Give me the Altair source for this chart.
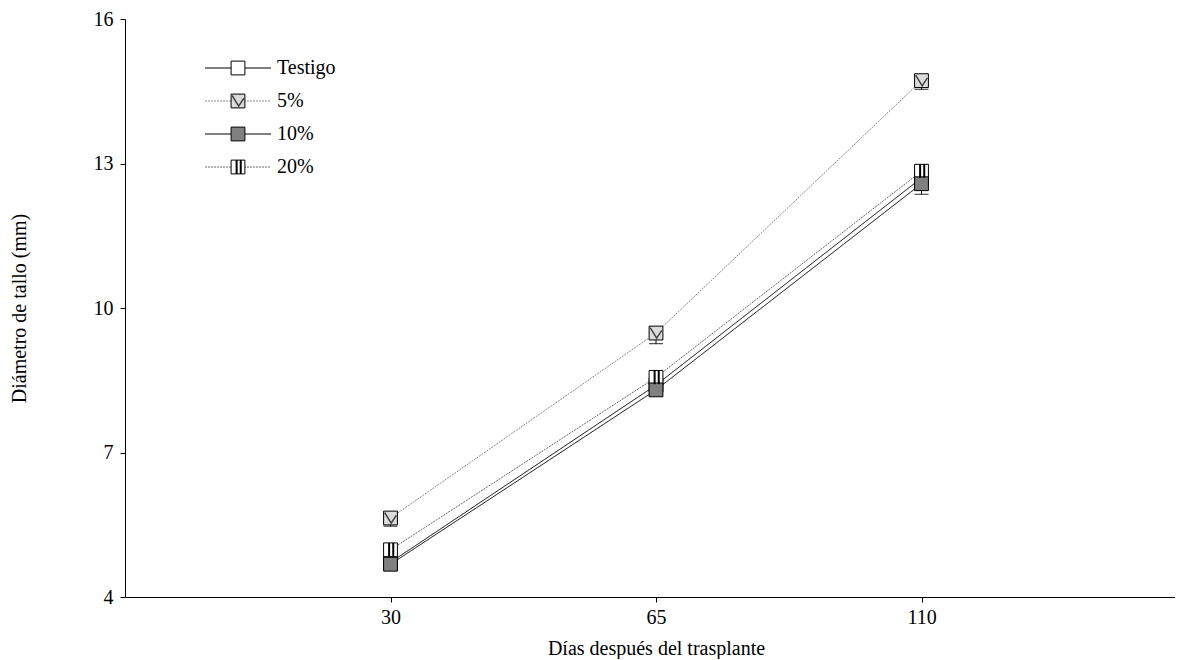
import altair as alt
import pandas as pd

# ---- data ----
days = ["30", "65", "110"]
series = ["Testigo", "5%", "10%", "20%"]
testigo = [4.72, 8.40, 12.70]
pct5 = [5.64, 9.48, 14.72]
pct10 = [4.68, 8.30, 12.58]
pct20 = [4.98, 8.56, 12.84]
err_testigo = [0.12, 0.15, 0.20]
err_pct5 = [0.17, 0.22, 0.18]
err_pct10 = [0.12, 0.12, 0.22]
err_pct20 = [0.12, 0.15, 0.15]

draw_rank = {"Testigo": 0, "5%": 1, "20%": 2, "10%": 3}

rows = []
for s, vals, errs in [("Testigo", testigo, err_testigo), ("5%", pct5, err_pct5),
                      ("10%", pct10, err_pct10), ("20%", pct20, err_pct20)]:
    for d, v, e in zip(days, vals, errs):
        rows.append({"dias": d, "trat": s, "diam": v, "low": v - e, "rank": draw_rank[s]})
df = pd.DataFrame(rows)
leg = pd.DataFrame({"trat": series})

FONT = "Liberation Serif"
FS = 20
line_colors = ["#000000", "#8a8a8a", "#000000", "#6a6a6a"]
dashes = [[1, 0], [2, 1], [1, 0], [2, 1]]
widths = [1.0, 1.0, 1.6, 1.0]
fills = ["#ffffff", "#dcdcdc", "#808080", "#ffffff"]

color = alt.Color("trat:N", scale=alt.Scale(domain=series, range=line_colors), legend=None)
dash = alt.StrokeDash("trat:N", scale=alt.Scale(domain=series, range=dashes), legend=None)
sw = alt.StrokeWidth("trat:N", scale=alt.Scale(domain=series, range=widths), legend=None)
fill = alt.Fill("trat:N", scale=alt.Scale(domain=series, range=fills), legend=None)

yscale = alt.Scale(domain=[4, 16], zero=False, nice=False)
xaxis = alt.Axis(title="Días después del trasplante", labelAngle=0,
                 labelFont=FONT, labelFontSize=FS, labelColor="black",
                 titleFont=FONT, titleFontSize=FS, titleFontWeight="normal",
                 titleColor="black", titlePadding=11, labelPadding=5,
                 tickSize=5, tickColor="black", domainColor="black", grid=False)
yaxis = alt.Axis(title="Diámetro de tallo (mm)", values=[4, 7, 10, 13, 16],
                 labelFont=FONT, labelFontSize=FS, labelColor="black",
                 titleFont=FONT, titleFontSize=FS, titleFontWeight="normal",
                 titleColor="black", titlePadding=64, labelPadding=7,
                 tickSize=5, tickColor="black", domainColor="black", grid=False)
xscale = alt.Scale(type="point", padding=1, range=[0, 1062])


def X():
    return alt.X("dias:O", sort=days, scale=xscale, axis=xaxis)


def Y(field):
    return alt.Y(field, scale=yscale, axis=yaxis)


base = alt.Chart(df)
lines = base.mark_line().encode(x=X(), y=Y("diam:Q"), color=color, strokeDash=dash,
                                strokeWidth=sw, detail="trat:N")
err_rule = base.mark_rule(color="black", strokeWidth=1).encode(
    x=X(), y=Y("low:Q"), y2="diam:Q")
err_cap = base.mark_tick(color="black", thickness=1.2, size=14).encode(
    x=X(), y=Y("low:Q"))
pts = base.mark_square(size=190, stroke="black", strokeWidth=1, opacity=1).encode(
    x=X(), y=Y("diam:Q"), fill=fill, order="rank:Q")
pat5 = base.transform_filter(alt.datum.trat == "5%").mark_point(
    shape="M-0.85,-0.8L0.1,0.75L0.85,-0.4", size=190, stroke="#444444", strokeWidth=1.5,
    filled=False, opacity=1).encode(x=X(), y=Y("diam:Q"))
pat20 = base.transform_filter(alt.datum.trat == "20%").mark_point(
    shape="M-0.2,-1L-0.2,1M0.4,-1L0.4,1", size=190, stroke="black", strokeWidth=2,
    filled=False, opacity=1).encode(x=X(), y=Y("diam:Q"))

data_layer = alt.layer(lines, err_rule, err_cap, pts, pat5, pat20)

# ---- hand-built legend (line + marker + label) ----
ly = alt.Y("trat:N", scale=alt.Scale(type="point", domain=series, range=[49, 148], padding=0),
           axis=None)
lb = alt.Chart(leg)
leg_line = lb.mark_rule().encode(x=alt.value(80), x2=alt.value(146), y=ly,
                                 color=color, strokeDash=dash, strokeWidth=sw)
leg_pt = lb.mark_square(size=190, stroke="black", strokeWidth=1, opacity=1).encode(
    x=alt.value(113), y=ly, fill=fill)
leg_p5 = lb.transform_filter(alt.datum.trat == "5%").mark_point(
    shape="M-0.85,-0.8L0.1,0.75L0.85,-0.4", size=190, stroke="#444444", strokeWidth=1.5,
    filled=False, opacity=1).encode(x=alt.value(113), y=ly)
leg_p20 = lb.transform_filter(alt.datum.trat == "20%").mark_point(
    shape="M-0.2,-1L-0.2,1M0.4,-1L0.4,1", size=190, stroke="black", strokeWidth=2,
    filled=False, opacity=1).encode(x=alt.value(113), y=ly)
leg_txt = lb.mark_text(align="left", baseline="middle", font=FONT, fontSize=FS,
                       color="black").encode(x=alt.value(152), y=ly, text="trat:N")
legend_layer = alt.layer(leg_line, leg_pt, leg_p5, leg_p20, leg_txt)

chart = alt.layer(data_layer, legend_layer).resolve_scale(y="independent").properties(
    width=1050, height=578,
    autosize=alt.AutoSizeParams(type="none"),
    padding={"left": 117, "top": 11, "right": 0, "bottom": 62},
    background="white",
).configure_view(stroke=None)

chart.save("out.html", embed_options={"renderer": "svg", "actions": False})
